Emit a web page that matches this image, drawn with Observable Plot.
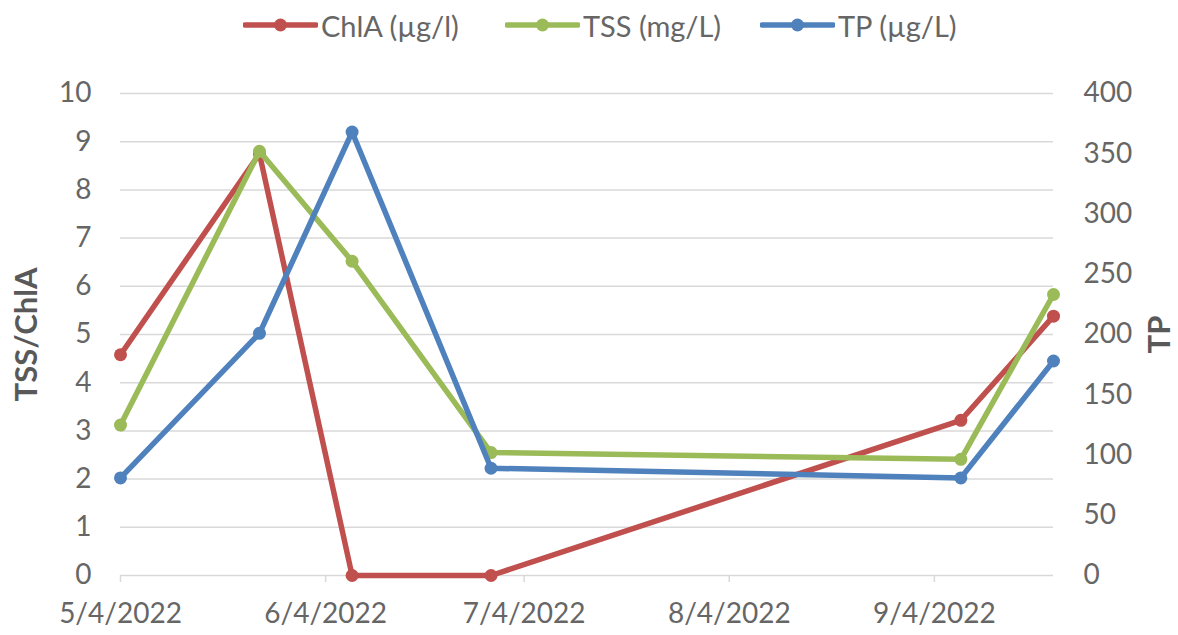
<!DOCTYPE html>
<html>
<head>
<meta charset="utf-8">
<script src="https://cdn.jsdelivr.net/npm/d3@7"></script>
<script src="https://cdn.jsdelivr.net/npm/@observablehq/plot@0.6"></script>
<style>
  html, body { margin: 0; padding: 0; background: #fff; }
  #wrap { position: relative; width: 1178px; height: 635px; overflow: hidden; font-family: Lato, "Open Sans", sans-serif; }
  #legend { position: relative; height: 50px; width: 1178px; }
  .item { position: absolute; top: 0; height: 50px; display: flex; align-items: center; }
  .item span { font-size: 29px; color: #666; margin-left: 3px; line-height: 1; }
</style>
</head>
<body>
<div id="wrap">
  <div id="legend"></div>
  <div id="chart"></div>
</div>
<script>
// ---- data ----
const dates = ["2022-05-04", "2022-05-25", "2022-06-08", "2022-06-29", "2022-09-08", "2022-09-22"];
const chla = [4.58, 8.75, 0, 0, 3.22, 5.38];
const tss = [3.12, 8.8, 6.52, 2.55, 2.41, 5.83];
const tp = [81, 201, 368, 89, 81, 178];
const seriesNames = ["ChlA (µg/l)", "TSS (mg/L)", "TP (µg/L)"];
const seriesColors = ["#C0504D", "#9BBB59", "#4F81BD"];
const xTickLabels = ["2022-05-04", "2022-06-04", "2022-07-04", "2022-08-04", "2022-09-04"];
const xDomain = ["2022-05-04", "2022-09-22"];
const leftTicks = [0, 1, 2, 3, 4, 5, 6, 7, 8, 9, 10];
const rightTicks = [0, 50, 100, 150, 200, 250, 300, 350, 400];
const leftMax = 10, rightMax = 400;
const leftTitle = "TSS/ChlA", rightTitle = "TP";

const parse = d3.utcParse("%Y-%m-%d");
const fmt = d3.utcFormat("%-m/%-d/%Y");
const ratio = leftMax / rightMax;

const series = [
  {name: seriesNames[0], color: seriesColors[0], values: chla, k: 1},
  {name: seriesNames[1], color: seriesColors[1], values: tss, k: 1},
  {name: seriesNames[2], color: seriesColors[2], values: tp, k: ratio}
];
const rows = series.map(s => dates.map((d, i) => ({date: parse(d), y: s.values[i] * s.k, name: s.name})));

const marks = [
  Plot.gridY(leftTicks, {stroke: "#d9d9d9", strokeOpacity: 1, strokeWidth: 1.5}),
  Plot.axisX(xTickLabels.map(parse), {tickSize: 7, tickPadding: 21, stroke: "#d9d9d9", strokeWidth: 1.5, fill: "#666", tickFormat: fmt, label: null}),
  Plot.axisY(leftTicks, {anchor: "left", tickSize: 0, tickPadding: 29, fill: "#666", label: null}),
  Plot.axisY(rightTicks.map(v => v * ratio), {anchor: "right", tickSize: 0, tickPadding: 30, fill: "#666", tickFormat: v => Math.round(v / ratio), label: null}),
  Plot.text([leftTitle], {frameAnchor: "left", textAnchor: "middle", dx: -93, rotate: -90, fontWeight: "bold", fontSize: 31, fill: "#595959"}),
  Plot.text([rightTitle], {frameAnchor: "right", textAnchor: "middle", dx: 107, rotate: -90, fontWeight: "bold", fontSize: 31, fill: "#595959"})
];
series.forEach((s, i) => {
  marks.push(Plot.line(rows[i], {x: "date", y: "y", stroke: s.color, strokeWidth: 5.5, strokeLinejoin: "round", strokeLinecap: "round"}));
  marks.push(Plot.dot(rows[i], {x: "date", y: "y", fill: s.color, r: 6.5}));
});

const chart = Plot.plot({
  width: 1178,
  height: 585,
  marginTop: 43,
  marginBottom: 60,
  marginLeft: 120,
  marginRight: 125,
  style: {fontFamily: "Lato, 'Open Sans', sans-serif", fontSize: "28px", background: "white", color: "#666", overflow: "visible"},
  x: {type: "utc", domain: xDomain.map(parse)},
  y: {domain: [0, leftMax]},
  marks
});
document.getElementById("chart").appendChild(chart);

// legend
const legendX = [243, 505, 760];
const legend = document.getElementById("legend");
series.forEach((s, i) => {
  const item = document.createElement("div");
  item.className = "item";
  item.style.left = legendX[i] + "px";
  item.innerHTML = `<svg width="75" height="16"><line x1="2" x2="73" y1="8" y2="8" stroke="${s.color}" stroke-width="5.5" stroke-linecap="round"/><circle cx="37.5" cy="8" r="6.5" fill="${s.color}"/></svg><span>${s.name}</span>`;
  legend.appendChild(item);
});
</script>
</body>
</html>
